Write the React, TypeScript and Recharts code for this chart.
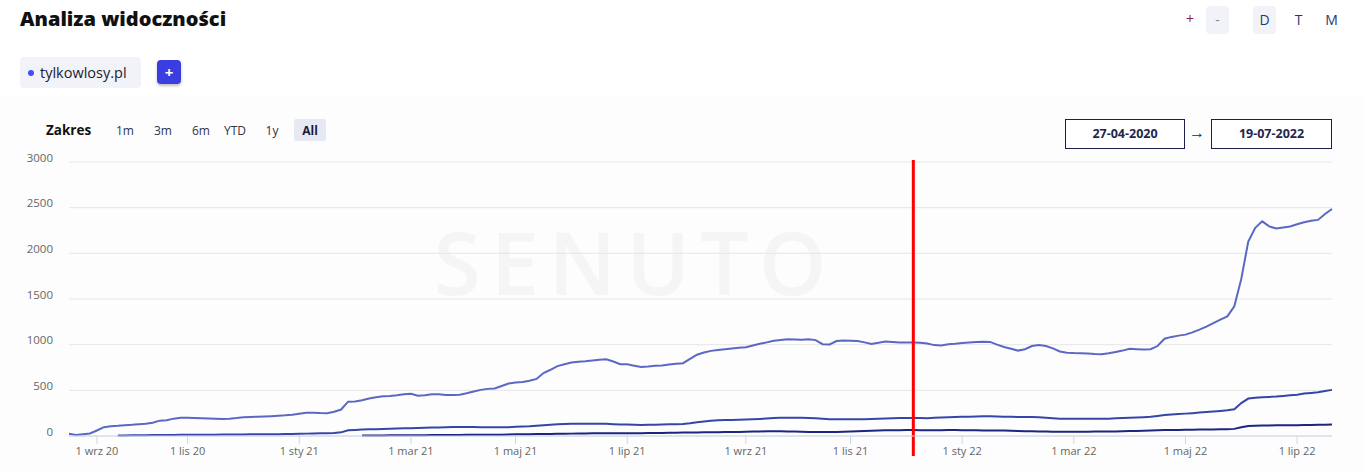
import React from 'react';
import { LineChart, Line, XAxis, YAxis, CartesianGrid, ReferenceLine } from 'recharts';

const dates: string[] = [
  '2020-04-27', '2020-06-10', '2020-07-15', '2020-08-15',
  '2020-09-01', '2020-09-06', '2020-09-11', '2020-09-16', '2020-09-21', '2020-09-26',
  '2020-10-01', '2020-10-05', '2020-10-09', '2020-10-13', '2020-10-17', '2020-10-21', '2020-10-26',
  '2020-11-01', '2020-11-05', '2020-11-09', '2020-11-13', '2020-11-17', '2020-11-21', '2020-11-25', '2020-11-29',
  '2020-12-01', '2020-12-05', '2020-12-09', '2020-12-13', '2020-12-17', '2020-12-21', '2020-12-25', '2020-12-29',
  '2021-01-01', '2021-01-05', '2021-01-09', '2021-01-13', '2021-01-17', '2021-01-21', '2021-01-25', '2021-01-29',
  '2021-02-01', '2021-02-05', '2021-02-08', '2021-02-12', '2021-02-15', '2021-02-19', '2021-02-22', '2021-02-25',
  '2021-03-01', '2021-03-05', '2021-03-09', '2021-03-13', '2021-03-17', '2021-03-21', '2021-03-25', '2021-03-29',
  '2021-04-01', '2021-04-05', '2021-04-09', '2021-04-14', '2021-04-18', '2021-04-22', '2021-04-26',
  '2021-05-01', '2021-05-05', '2021-05-09', '2021-05-13', '2021-05-17', '2021-05-21', '2021-05-25', '2021-05-29',
  '2021-06-01', '2021-06-05', '2021-06-09', '2021-06-13', '2021-06-17', '2021-06-21', '2021-06-25', '2021-06-29',
  '2021-07-01', '2021-07-04', '2021-07-08', '2021-07-11', '2021-07-15', '2021-07-18', '2021-07-22', '2021-07-25', '2021-07-29',
  '2021-08-01', '2021-08-05', '2021-08-09', '2021-08-13', '2021-08-17', '2021-08-21', '2021-08-25', '2021-08-29',
  '2021-09-01', '2021-09-05', '2021-09-09', '2021-09-14', '2021-09-18', '2021-09-22', '2021-09-26',
  '2021-10-01', '2021-10-05', '2021-10-09', '2021-10-13', '2021-10-17', '2021-10-21', '2021-10-25', '2021-10-29',
  '2021-11-01', '2021-11-05', '2021-11-09', '2021-11-13', '2021-11-17', '2021-11-21', '2021-11-25', '2021-11-29',
  '2021-12-01', '2021-12-05', '2021-12-09', '2021-12-13', '2021-12-17', '2021-12-21', '2021-12-25', '2021-12-29',
  '2022-01-01', '2022-01-05', '2022-01-09', '2022-01-13', '2022-01-17', '2022-01-21', '2022-01-25', '2022-01-29',
  '2022-02-01', '2022-02-05', '2022-02-08', '2022-02-12', '2022-02-15', '2022-02-19', '2022-02-22', '2022-02-25',
  '2022-03-01', '2022-03-05', '2022-03-09', '2022-03-13', '2022-03-17', '2022-03-21', '2022-03-25', '2022-03-29',
  '2022-04-01', '2022-04-05', '2022-04-09', '2022-04-13', '2022-04-17', '2022-04-21', '2022-04-25', '2022-04-29',
  '2022-05-01', '2022-05-05', '2022-05-09', '2022-05-13', '2022-05-17', '2022-05-21', '2022-05-25', '2022-05-29',
  '2022-06-01', '2022-06-05', '2022-06-09', '2022-06-13', '2022-06-17', '2022-06-21', '2022-06-25', '2022-06-29',
  '2022-07-01', '2022-07-05', '2022-07-09', '2022-07-12', '2022-07-16', '2022-07-19',
];

const seriesTop: (number | null)[] = [
  25, 10, 20, 28, 60, 97, 108, 112, 118, 122,
  128, 135, 145, 168, 173, 190, 200, 199, 197, 194,
  191, 189, 187, 189, 196, 205, 208, 211, 214, 217,
  221, 226, 233, 244, 255, 255, 251, 250, 265, 290,
  376, 378, 392, 410, 425, 435, 438, 445, 458, 462,
  442, 445, 458, 458, 450, 450, 452, 468, 488, 505,
  516, 520, 548, 575, 585, 592, 605, 625, 690, 725,
  765, 785, 805, 812, 818, 826, 835, 840, 815, 786,
  786, 770, 755, 760, 768, 772, 782, 790, 797, 845,
  890, 915, 932, 942, 950, 957, 965, 972, 990, 1009,
  1025, 1042, 1052, 1060, 1056, 1053, 1058, 1050, 1005, 1002,
  1040, 1046, 1043, 1040, 1025, 1008, 1020, 1035, 1030, 1024,
  1024, 1024, 1022, 1012, 995, 992, 1005, 1010, 1018, 1025,
  1028, 1032, 1030, 1001, 975, 955, 935, 950, 985, 995,
  985, 960, 925, 912, 908, 906, 903, 898, 895, 905,
  920, 935, 954, 950, 946, 950, 985, 1065, 1085, 1099,
  1110, 1135, 1165, 1198, 1235, 1274, 1310, 1420, 1720, 2130,
  2280, 2350, 2295, 2272, 2283, 2293, 2318, 2340, 2356, 2366,
  2430, 2485,
];

const seriesMid: (number | null)[] = [
  null, null, null, null, null, null, null, 5, 6, 7,
  8, 9, 10, 11, 12, 12, 13, 13, 14, 14,
  15, 15, 16, 16, 17, 17, 18, 18, 19, 20,
  20, 21, 22, 24, 26, 28, 29, 30, 32, 40,
  62, 66, 70, 73, 75, 77, 79, 81, 84, 86,
  88, 90, 92, 94, 96, 98, 99, 99, 98, 97,
  96, 95, 95, 97, 100, 103, 106, 112, 118, 124,
  128, 131, 133, 134, 135, 135, 135, 133, 130, 127,
  125, 123, 121, 122, 124, 126, 128, 130, 132, 140,
  150, 160, 168, 172, 174, 176, 178, 180, 183, 187,
  192, 196, 200, 201, 200, 199, 197, 194, 189, 184,
  183, 183, 183, 183, 183, 185, 188, 192, 195, 197,
  197, 197, 196, 195, 199, 203, 205, 207, 210, 212,
  214, 215, 215, 214, 212, 210, 209, 208, 207, 205,
  200, 195, 190, 188, 188, 188, 188, 188, 188, 190,
  193, 197, 200, 203, 206, 210, 220, 230, 236, 240,
  245, 250, 256, 262, 268, 275, 282, 292, 360, 410,
  420, 425, 428, 432, 438, 445, 452, 465, 472, 480,
  492, 505,
];

const seriesLow: (number | null)[] = [
  null, null, null, null, null, null, null, null, null, null,
  null, null, null, null, null, null, null, null, null, null,
  null, null, null, null, null, null, null, null, null, null,
  null, null, null, null, null, null, null, null, null, null,
  null, null, 5, 5, 6, 6, 7, 7, 8, 8,
  9, 9, 10, 10, 11, 12, 12, 13, 13, 14,
  14, 15, 15, 17, 18, 19, 20, 21, 22, 23,
  24, 25, 26, 27, 28, 29, 29, 29, 30, 30,
  30, 30, 31, 32, 33, 34, 35, 36, 37, 38,
  39, 40, 41, 42, 43, 44, 45, 46, 48, 50,
  52, 52, 51, 50, 48, 46, 45, 44, 44, 44,
  45, 47, 50, 53, 56, 58, 60, 62, 63, 64,
  65, 65, 64, 63, 63, 64, 65, 65, 64, 63,
  62, 61, 60, 60, 59, 57, 55, 53, 51, 49,
  48, 47, 46, 46, 46, 47, 47, 48, 48, 49,
  50, 52, 54, 56, 58, 61, 63, 65, 66, 67,
  68, 69, 70, 71, 72, 73, 75, 78, 95, 110,
  113, 115, 116, 117, 118, 118, 119, 120, 121, 122,
  124, 126,
];

const xTicks: string[] = [
  '2020-09-01', '2020-11-01', '2021-01-01', '2021-03-01', '2021-05-01', '2021-07-01',
  '2021-09-01', '2021-11-01', '2022-01-01', '2022-03-01', '2022-05-01', '2022-07-01',
];
const yTicks: number[] = [0, 500, 1000, 1500, 2000, 2500, 3000];
const monthNames: string[] = ['sty', 'lut', 'mar', 'kwi', 'maj', 'cze', 'lip', 'sie', 'wrz', 'paź', 'lis', 'gru'];
const markerDate = '2021-12-05';
const rangeButtons: string[] = ['1m', '3m', '6m', 'YTD', '1y', 'All'];
const rangeButtonX: number[] = [125, 163, 201, 235, 272, 310];
const startDate = '27-04-2020';
const endDate = '19-07-2022';
const domainName = 'tylkowlosy.pl';

const data = dates.map((d, i) => ({ date: d, top: seriesTop[i], mid: seriesMid[i], low: seriesLow[i] }));

const fmtDate = (d: string) => {
  const [y, m, day] = d.split('-');
  return `${parseInt(day, 10)} ${monthNames[parseInt(m, 10) - 1]} ${y.slice(2)}`;
};

const FONT = "'Open Sans', 'Noto Sans', sans-serif";

const YTick = (props: any) => {
  const { x, y, payload } = props;
  return (
    <text x={x} y={y - 5} textAnchor="end" dominantBaseline="central" fontSize={11.5} fill="#666666" fontFamily={FONT}>
      {payload.value}
    </text>
  );
};

const XTick = (props: any) => {
  const { x, y, payload } = props;
  return (
    <text x={x} y={y + 9} textAnchor="middle" fontSize={11} fill="#666666" fontFamily={FONT}>
      {fmtDate(payload.value)}
    </text>
  );
};

export default function App() {
  return (
    <div style={{ position: 'absolute', left: 0, top: 0, width: 1364, height: 473, background: '#ffffff', fontFamily: FONT, overflow: 'hidden' }}>
      <div style={{ position: 'absolute', left: 0, top: 95, width: 1364, height: 378, background: '#fdfdfd' }} />
      <div style={{ position: 'absolute', left: 20, top: 5, fontSize: 20, fontWeight: 800, color: '#111111', lineHeight: '28px', letterSpacing: 0 }}>
        Analiza widoczności
      </div>
      <div style={{ position: 'absolute', left: 1184, top: 9, width: 12, height: 20, fontSize: 14, color: '#8a2060', textAlign: 'center', lineHeight: '20px' }}>+</div>
      <div style={{ position: 'absolute', left: 1206, top: 6, width: 23, height: 28, background: '#f2f3f8', borderRadius: 4, fontSize: 14, color: '#888888', textAlign: 'center', lineHeight: '27px' }}>-</div>
      <div style={{ position: 'absolute', left: 1253, top: 6, width: 23, height: 28, background: '#f2f3f8', borderRadius: 4, fontSize: 14, color: '#1e3a6e', textAlign: 'center', lineHeight: '28px' }}>D</div>
      <div style={{ position: 'absolute', left: 1287, top: 6, width: 23, height: 28, fontSize: 14, color: '#1e3a6e', textAlign: 'center', lineHeight: '28px' }}>T</div>
      <div style={{ position: 'absolute', left: 1320, top: 6, width: 23, height: 28, fontSize: 14, color: '#1e3a6e', textAlign: 'center', lineHeight: '28px' }}>M</div>

      <div style={{ position: 'absolute', left: 20, top: 57, width: 121, height: 31, background: '#f2f3f8', borderRadius: 4 }}>
        <div style={{ position: 'absolute', left: 8, top: 12.5, width: 6, height: 6, borderRadius: 3, background: '#3d50f5' }} />
        <div style={{ position: 'absolute', left: 20, top: 0, lineHeight: '31px', fontSize: 14.5, color: '#1b1b2f' }}>{domainName}</div>
      </div>
      <div style={{ position: 'absolute', left: 157, top: 60, width: 24, height: 24, background: '#3a3de0', borderRadius: 4, color: '#ffffff', fontSize: 15, fontWeight: 700, textAlign: 'center', lineHeight: '24px', boxShadow: '0 2px 3px rgba(0,0,0,0.25)' }}>+</div>

      <div style={{ position: 'absolute', left: 46, top: 120, fontSize: 13.5, fontWeight: 700, color: '#111111', lineHeight: '20px' }}>Zakres</div>
      {rangeButtons.map((b, i) => (
        <div key={b} style={{ position: 'absolute', left: rangeButtonX[i] - 16, top: 119, width: 32, height: 22, borderRadius: 2, background: b === 'All' ? '#e6e9f4' : 'transparent', fontSize: 12, fontWeight: b === 'All' ? 700 : 400, color: b === 'All' ? '#1a1a3a' : '#333344', textAlign: 'center', lineHeight: '23px' }}>{b}</div>
      ))}

      <div style={{ position: 'absolute', left: 1065, top: 119, width: 118, height: 28, border: '1px solid #1b1f4b', fontSize: 12.5, fontWeight: 700, color: '#23264a', textAlign: 'center', lineHeight: '28px', background: '#ffffff' }}>{startDate}</div>
      <div style={{ position: 'absolute', left: 1188, top: 119, width: 18, fontSize: 16, color: '#23264a', textAlign: 'center', lineHeight: '26px' }}>→</div>
      <div style={{ position: 'absolute', left: 1211, top: 119, width: 119, height: 28, border: '1px solid #1b1f4b', fontSize: 12.5, fontWeight: 700, color: '#23264a', textAlign: 'center', lineHeight: '28px', background: '#ffffff' }}>{endDate}</div>

      <div style={{ position: 'absolute', left: 405, top: 212, width: 460, textAlign: 'center', fontSize: 86, fontWeight: 600, color: '#f5f5f6', letterSpacing: 10, lineHeight: '100px' }}>SENUTO</div>

      <div style={{ position: 'absolute', left: 0, top: 0 }}>
        <LineChart width={1364} height={473} data={data} margin={{ top: 162, right: 32, bottom: 7, left: 9 }}>
          <CartesianGrid vertical={false} stroke="#e6e6e6" horizontalValues={yTicks} />
          <XAxis
            dataKey="date"
            ticks={xTicks}
            interval={0}
            height={30}
            tick={<XTick />}
            tickSize={8}
            axisLine={{ stroke: '#ccd6eb' }}
            tickLine={{ stroke: '#ccd6eb' }}
          />
          <YAxis
            width={60}
            domain={[0, 3000]}
            ticks={yTicks}
            interval={0}
            axisLine={false}
            tickLine={false}
            tickSize={0}
            tickMargin={16}
            tick={<YTick />}
          />
          <Line type="linear" dataKey="top" stroke="#5a68c4" strokeWidth={2} dot={false} isAnimationActive={false} />
          <Line type="linear" dataKey="mid" stroke="#3646a8" strokeWidth={2} dot={false} isAnimationActive={false} />
          <Line type="linear" dataKey="low" stroke="#1c2580" strokeWidth={2} dot={false} isAnimationActive={false} />
          <ReferenceLine
            x={markerDate}
            stroke="#ff0000"
            strokeWidth={3}
            ifOverflow="visible"
            shape={(p: any) => (
              <line x1={p.x1} x2={p.x2} y1={Math.min(p.y1, p.y2) - 2} y2={Math.max(p.y1, p.y2) + 20} stroke="#ff0000" strokeWidth={3} />
            )}
          />
        </LineChart>
      </div>
    </div>
  );
}
